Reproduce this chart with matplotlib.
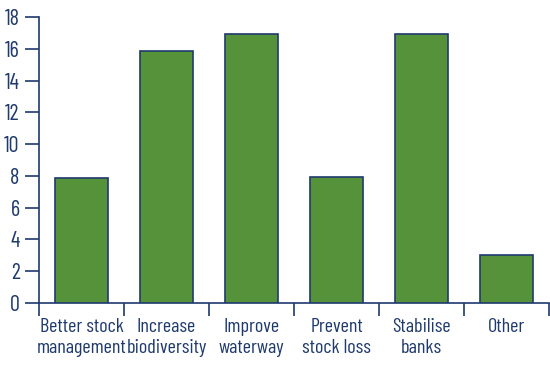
import numpy as np
import matplotlib.pyplot as plt

categories = ["Better stock\nmanagement", "Increase\nbiodiversity", "Improve\nwaterway",
              "Prevent\nstock loss", "Stabilise\nbanks", "Other"]
values = [7.85, 15.85, 16.9, 7.9, 16.9, 3.0]
yticks = [0, 2, 4, 6, 8, 10, 12, 14, 16, 18]

plt.rcParams["font.family"] = ["Barlow Condensed", "Roboto Condensed", "DejaVu Sans"]

navy = "#1f3a6e"
green = "#55923a"

fig = plt.figure(figsize=(5.5, 3.67), dpi=100)
ax = fig.add_axes([39 / 550, 1 - 303 / 367, 510 / 550, 286 / 367])

x = np.arange(len(categories))
ax.bar(x, values, width=0.635, color=green, edgecolor=navy, linewidth=1.2, zorder=3)

ax.set_xlim(-0.5, len(categories) - 0.5)
ax.set_ylim(0, 18)
ax.set_yticks(yticks)
ax.set_yticklabels([str(v) for v in yticks], fontsize=16, color=navy)

ax.set_xticks(x)
ax.set_xticklabels(categories, fontsize=14.5, color=navy, linespacing=1.2)
ax.tick_params(axis="x", which="major", length=0, pad=11)
ax.set_xticks(np.arange(len(categories) + 1) - 0.5, minor=True)
ax.tick_params(axis="x", which="minor", length=9, width=1.2, color=navy)
ax.tick_params(axis="y", length=10, width=1.2, color=navy, pad=4)

for s in ["top", "right"]:
    ax.spines[s].set_visible(False)
for s in ["left", "bottom"]:
    ax.spines[s].set_color(navy)
    ax.spines[s].set_linewidth(1.2)

fig.savefig("out.png", dpi=100)
